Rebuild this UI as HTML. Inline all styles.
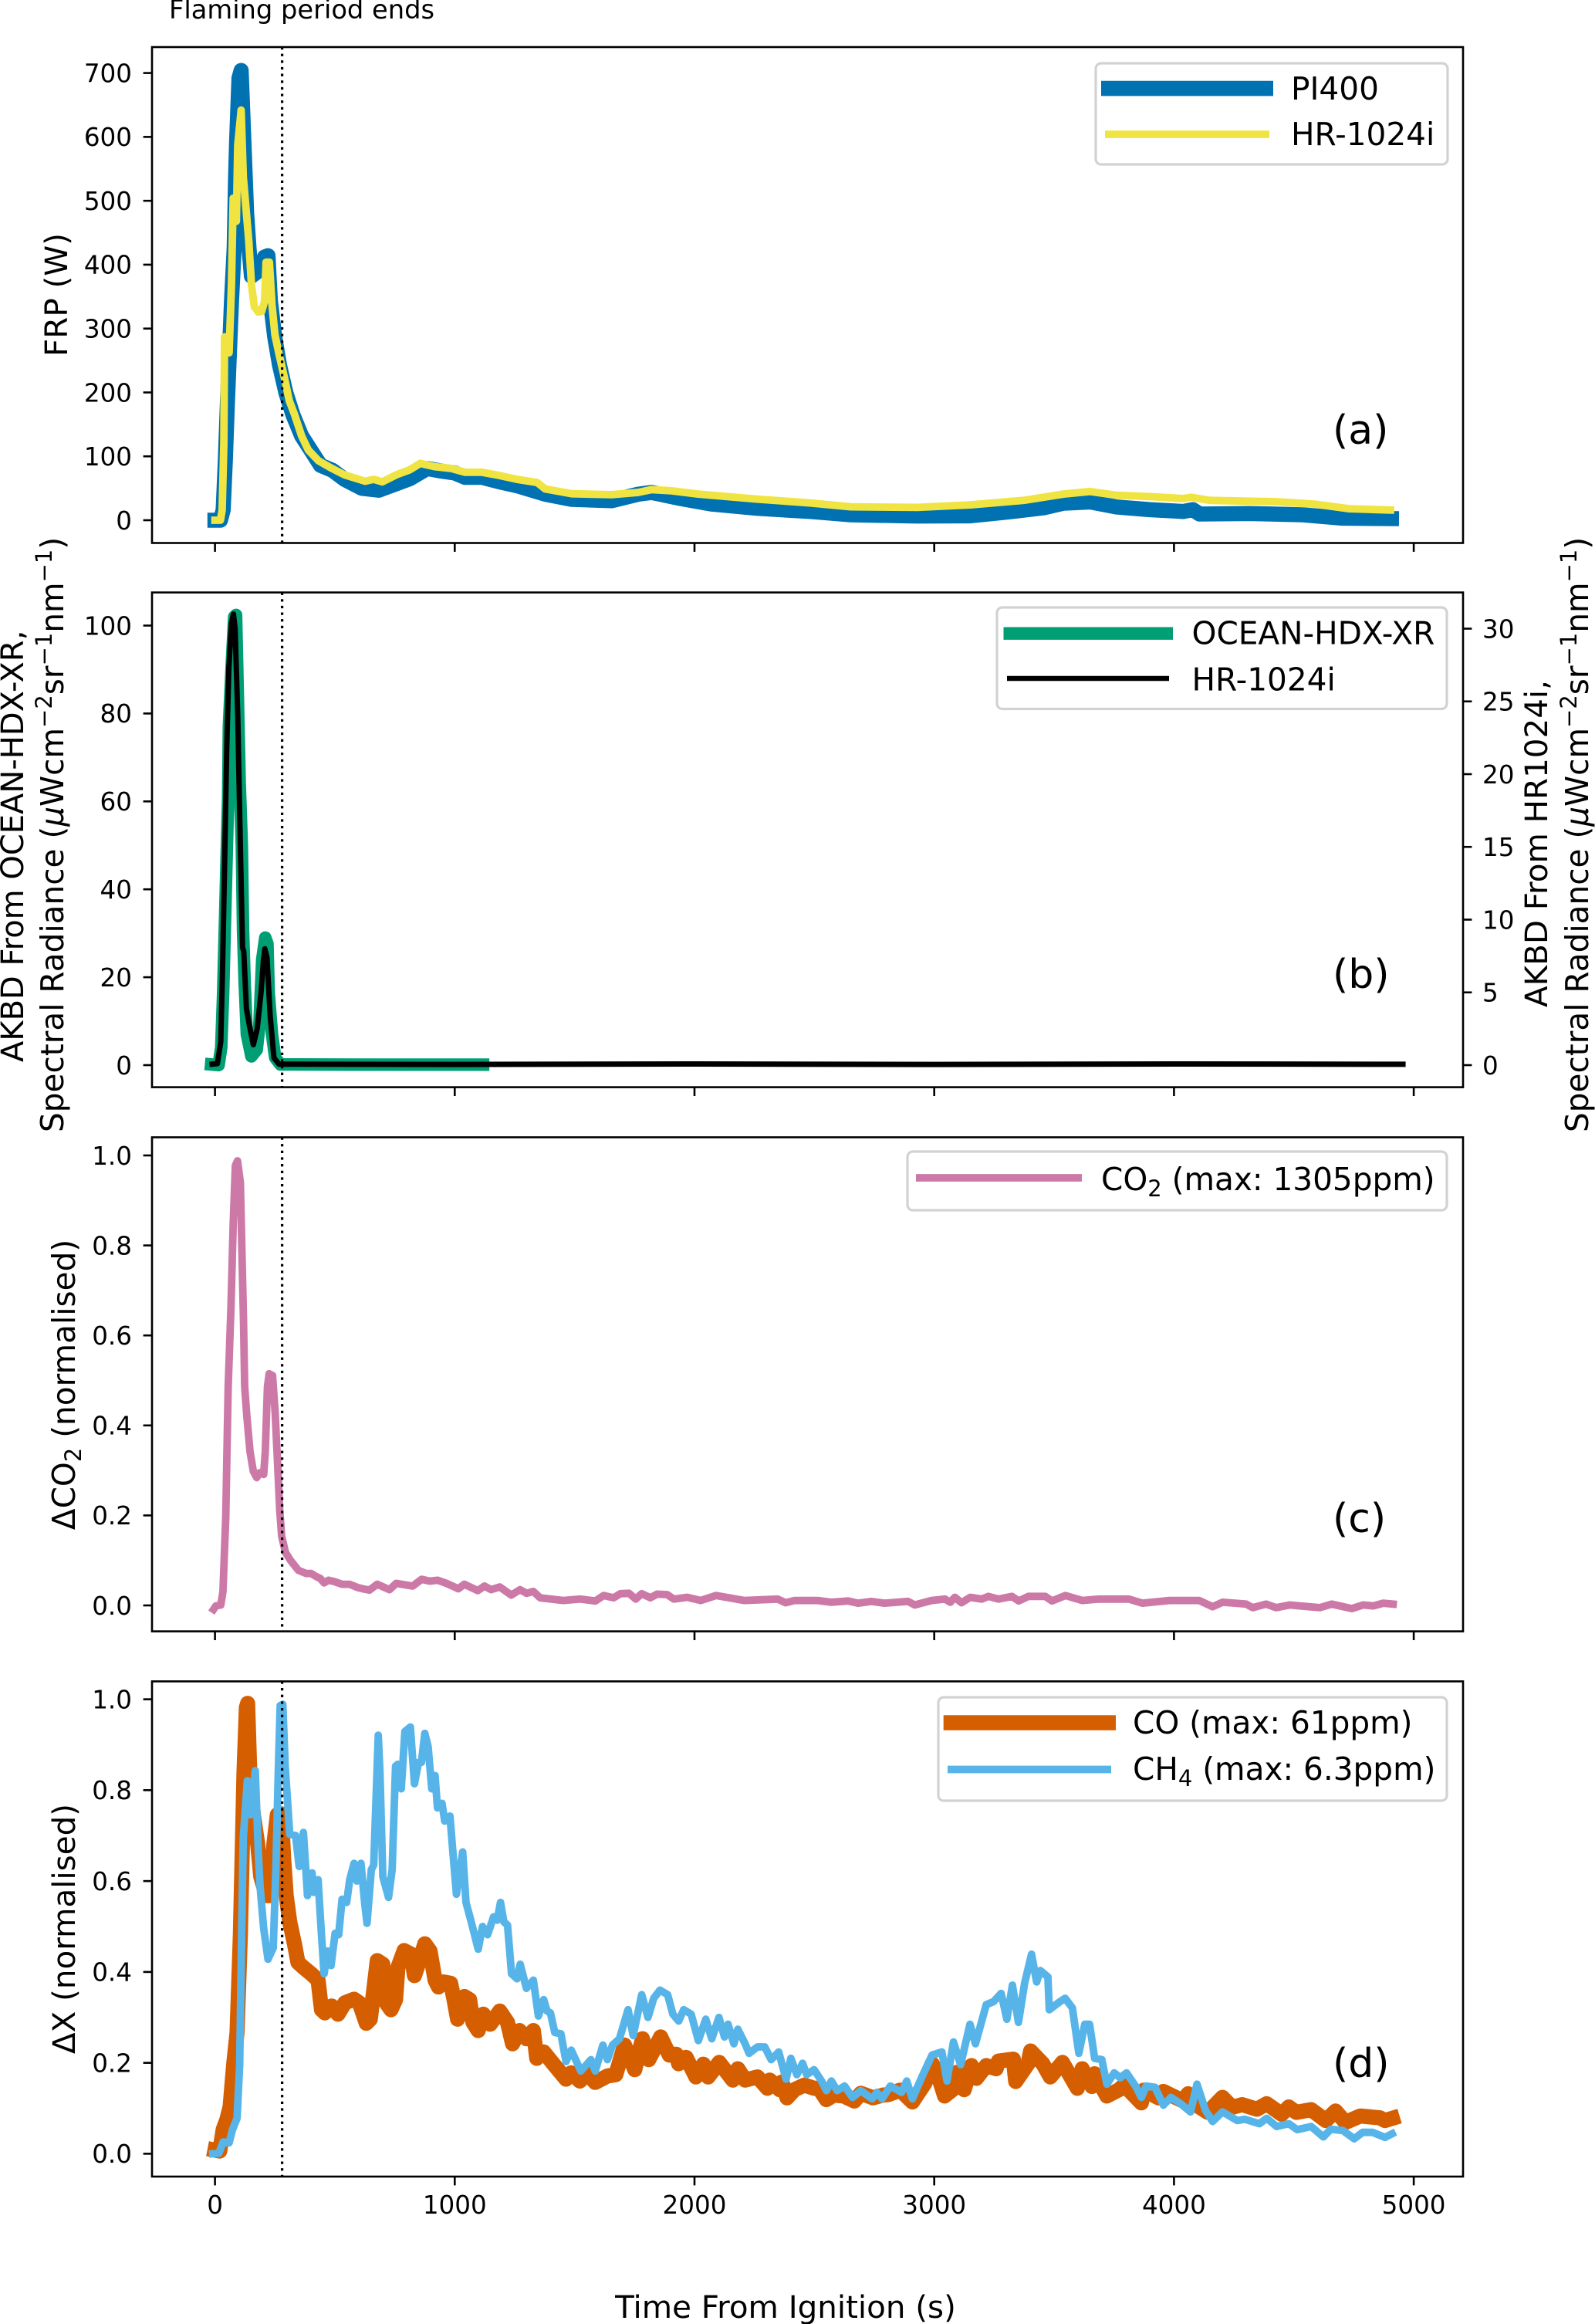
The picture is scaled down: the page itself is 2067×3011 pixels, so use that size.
<!DOCTYPE html>
<html lang="en">
<head>
<meta charset="utf-8">
<title>Fire time series</title>
<style>
html,body{margin:0;padding:0;background:#fff;}
svg{display:block;}
text{font-family:"DejaVu Sans","Liberation Sans",sans-serif;fill:#000;}
</style>
</head>
<body>
<svg id="chart" xmlns="http://www.w3.org/2000/svg" width="2067" height="3011" viewBox="0 0 2067 3011">
  <rect x="0" y="0" width="2067" height="3011" fill="#fff"/>
  <text x="219" y="24" font-size="33.7">Flaming period ends</text>

  <g id="panel-a"></g>
  <g id="panel-b"></g>
  <g id="panel-c"></g>
  <g id="panel-d"></g>

  <text transform="translate(87,382) rotate(-90)" font-size="40.4" text-anchor="middle">FRP (W)</text>
  <text transform="translate(30,1376) rotate(-90)" font-size="40">AKBD From OCEAN-HDX-XR,</text>
  <text transform="translate(82,1467) rotate(-90)" font-size="40.6">Spectral Radiance (<tspan font-style="italic">μ</tspan>Wcm<tspan dy="-15" font-size="29">−2</tspan><tspan dy="15">sr</tspan><tspan dy="-15" font-size="29">−1</tspan><tspan dy="15">nm</tspan><tspan dy="-15" font-size="29">−1</tspan><tspan dy="15">)</tspan></text>
  <text transform="translate(2005,1305) rotate(-90)" font-size="40.4">AKBD From HR1024i,</text>
  <text transform="translate(2058,1467) rotate(-90)" font-size="40.6">Spectral Radiance (<tspan font-style="italic">μ</tspan>Wcm<tspan dy="-15" font-size="29">−2</tspan><tspan dy="15">sr</tspan><tspan dy="-15" font-size="29">−1</tspan><tspan dy="15">nm</tspan><tspan dy="-15" font-size="29">−1</tspan><tspan dy="15">)</tspan></text>
  <text transform="translate(97,1794) rotate(-90)" font-size="40.6" text-anchor="middle">ΔCO<tspan dy="8" font-size="29">2</tspan><tspan dy="-8"> (normalised)</tspan></text>
  <text transform="translate(97,2499) rotate(-90)" font-size="40.4" text-anchor="middle">ΔX (normalised)</text>
  <text x="1018" y="3003" font-size="40.4" text-anchor="middle">Time From Ignition (s)</text>

  <text x="1727" y="575" font-size="52">(a)</text>
  <text x="1727" y="1280" font-size="52">(b)</text>
  <text x="1727" y="1985" font-size="52">(c)</text>
  <text x="1727" y="2691" font-size="52">(d)</text>

  <g>
    <rect x="1420" y="82" width="456" height="131" rx="7" fill="#fff" fill-opacity="0.8" stroke="#d2d2d2" stroke-width="3.2"/>
    <line x1="1427" x2="1650" y1="114.6" y2="114.6" stroke="#0072B2" stroke-width="19.6"/>
    <text x="1673" y="129" font-size="40.6">PI400</text>
    <line x1="1432" x2="1645" y1="174" y2="174" stroke="#F0E442" stroke-width="9.8"/>
    <text x="1673" y="188" font-size="40.6">HR-1024i</text>
  </g>
  <g>
    <rect x="1292" y="787" width="583" height="131.500" rx="7" fill="#fff" fill-opacity="0.8" stroke="#d2d2d2" stroke-width="3.2"/>
    <line x1="1300.500" x2="1520" y1="820.700" y2="820.700" stroke="#009E73" stroke-width="16.300"/>
    <text x="1544.500" y="834.500" font-size="40.6">OCEAN-HDX-XR</text>
    <line x1="1305" x2="1515" y1="879" y2="879" stroke="#000" stroke-width="6.500"/>
    <text x="1544.500" y="894.500" font-size="40.6">HR-1024i</text>
  </g>
  <g>
    <rect x="1176" y="1492" width="699" height="76" rx="7" fill="#fff" fill-opacity="0.8" stroke="#d2d2d2" stroke-width="3.2"/>
    <line x1="1187" x2="1402" y1="1526" y2="1526" stroke="#CC79A7" stroke-width="9.8"/>
    <text x="1427" y="1542" font-size="40.6">CO<tspan dy="8" font-size="29">2</tspan><tspan dy="-8"> (max: 1305ppm)</tspan></text>
  </g>
  <g>
    <rect x="1216" y="2199" width="659" height="134" rx="7" fill="#fff" fill-opacity="0.8" stroke="#d2d2d2" stroke-width="3.2"/>
    <line x1="1222.700" x2="1446" y1="2232" y2="2232" stroke="#D55E00" stroke-width="19.6"/>
    <text x="1468" y="2246" font-size="40.6">CO (max: 61ppm)</text>
    <line x1="1228" x2="1440" y1="2292.500" y2="2292.500" stroke="#56B4E9" stroke-width="9.8"/>
    <text x="1468" y="2306" font-size="40.6">CH<tspan dy="8" font-size="29">4</tspan><tspan dy="-8"> (max: 6.3ppm)</tspan></text>
  </g>
</svg>
<script>
/* ---------- data ---------- */
const flamingEndTime = 280;
const xTicks = [0, 1000, 2000, 3000, 4000, 5000];
const frpTicks = [0, 100, 200, 300, 400, 500, 600, 700];
const akbdLeftTicks = [0, 20, 40, 60, 80, 100];
const akbdRightTicks = [0, 5, 10, 15, 20, 25, 30];
const normTicks = ["0.0", "0.2", "0.4", "0.6", "0.8", "1.0"];

const pi400Time = [0,23,34,43,52,69,80,86,90,100,109,115,132,142,152,170,195,207,221,231,249,269,296,325,361,399,440,490,540,612,684,756,813,885,943,1000,1043,1115,1187,1259,1377,1488,1655,1765,1821,1932,2070,2264,2486,2652,2929,3151,3317,3456,3539,3650,3761,3899,4038,4079,4107,4315,4537,4703,4907];
const pi400Frp = [0,0,16,93,187,343,426,537,592,692,704,648,481,426,382,387,398,412,414,343,287,243,199,165,132,110,86,78,64,50,47,57,65,81,77,74,67,67,60,54,40.7,32.6,30.6,40.7,43.5,34.7,25.4,18.6,13.7,8.5,6.5,6.9,13.3,19.4,26.6,28.6,20.6,16.5,13.7,16.5,9.7,10.5,8.5,3.3,2.5];

const hrFrpTime = [0,23,30,37,40,52,59,69,76,89,95,109,118,126,141,152,164,181,195,207,213,227,238,250,267,289,310,332,361,389,432,483,540,626,662,698,756,813,856,914,986,1043,1115,1187,1259,1344,1377,1488,1655,1765,1821,1904,2015,2264,2486,2652,2929,3151,3373,3539,3650,3761,3899,4038,4071,4149,4426,4592,4731,4903];
const hrFrp = [0,0,16,121,287,287,262,370,504,468,587,642,537,504,437,370,334,326,327,343,404,404,337,290,260,224,187,165,132,110,93,82,71,61,64,60,71,79,89,84,81,75,75,70,64,59,49,41.5,40,43.5,48,46,41,33,27,21,20,24,31,41,45,39,37,34,36,31,29,25,18,16];

const oceanTime = [-16,15,26,34,48,55,58,69,80,88,95,103,112,117,124,133,152,174,185,197,210,219,224,238,251,273,600,1118];
const oceanAkbd = [0.15,0,4,16.5,46,61,77,90,102,102.4,85,64.5,50,30.5,18.7,7,2,3.5,9,24,29,27.6,16.5,7,1.7,0.15,0.1,0.1];

const hrAkbdTime = [-12,10,24,31,39,49,58,69,77,84,95,106,115,120,131,144,160,176,192,202,208,217,230,246,267,1000,2000,3000,4000,4955];
const hrAkbd = [0.07,0.1,1.6,6.1,12.8,21.7,27.3,30.4,31,30,24,15,8.1,7.8,3.9,2.7,1.4,2.5,5,7.2,8,7.4,3.4,0.5,0.07,0.05,0.08,0.05,0.08,0.06];

const co2Time = [-6,4,24,33,45,50,55,67,76,85,94,106,119,124,133,146,160,174,187,203,210,219,226,240,251,262,270,278,294,315,348,380,401,423,439,455,474,498,530,562,594,616,644,677,728,756,825,862,895,929,965,1015,1040,1096,1124,1152,1188,1236,1272,1300,1328,1356,1453,1523,1587,1621,1663,1691,1727,1755,1780,1816,1844,1886,1914,1970,2026,2090,2207,2347,2380,2417,2514,2570,2640,2682,2738,2793,2891,2919,2989,3045,3067,3086,3114,3150,3198,3226,3268,3324,3352,3393,3463,3491,3547,3617,3687,3812,3868,3980,4105,4161,4203,4301,4329,4384,4426,4482,4524,4608,4658,4742,4789,4831,4873,4914];
const co2Norm = [-0.009,-0.001,0.001,0.03,0.197,0.34,0.486,0.667,0.847,0.977,0.988,0.94,0.63,0.486,0.42,0.342,0.298,0.284,0.295,0.291,0.342,0.486,0.515,0.511,0.428,0.305,0.212,0.154,0.118,0.1,0.078,0.071,0.071,0.064,0.06,0.05,0.056,0.053,0.047,0.047,0.04,0.037,0.034,0.047,0.035,0.049,0.043,0.058,0.054,0.056,0.049,0.037,0.047,0.033,0.043,0.035,0.041,0.023,0.035,0.027,0.031,0.017,0.011,0.014,0.01,0.022,0.017,0.026,0.027,0.014,0.026,0.017,0.025,0.024,0.014,0.018,0.011,0.022,0.011,0.014,0.006,0.011,0.011,0.007,0.01,0.005,0.009,0.005,0.009,0.001,0.011,0.014,0.007,0.018,0.006,0.018,0.014,0.02,0.014,0.02,0.01,0.02,0.02,0.01,0.022,0.011,0.014,0.014,0.005,0.011,0.011,-0.003,0.007,0.003,-0.005,0.003,-0.005,0.001,-0.001,-0.005,0.003,-0.007,0.001,-0.001,0.005,0.003];

const coTime = [0,20,34,49,63,78,92,106,121,131,136,145,160,178,191,214,231,246,260,277,286,297,312,332,346,369,401,430,444,458,487,513,542,580,602,631,648,659,677,700,714,734,753,763,789,818,832,853,875,897,918,932,954,983,997,1012,1040,1062,1076,1098,1119,1148,1188,1220,1241,1270,1299,1328,1342,1371,1414,1464,1486,1522,1550,1586,1637,1672,1708,1751,1783,1809,1859,1895,1903,1924,1934,1965,2006,2037,2057,2103,2160,2181,2211,2263,2304,2314,2355,2365,2386,2417,2458,2499,2519,2550,2581,2622,2667,2694,2745,2786,2807,2858,2909,2961,2991,3012,3043,3084,3094,3125,3155,3176,3217,3258,3268,3330,3340,3391,3402,3453,3484,3535,3597,3617,3658,3669,3720,3771,3792,3864,3874,3936,3956,4038,4059,4100,4141,4202,4243,4284,4346,4387,4449,4479,4510,4572,4633,4674,4715,4777,4859,4880,4911];
const coNorm = [0.008,0.006,0.053,0.074,0.103,0.196,0.267,0.482,0.839,0.982,0.991,0.839,0.746,0.682,0.61,0.568,0.568,0.682,0.746,0.748,0.653,0.568,0.51,0.46,0.421,0.41,0.396,0.382,0.317,0.31,0.325,0.307,0.332,0.34,0.332,0.287,0.296,0.346,0.425,0.417,0.332,0.317,0.339,0.41,0.447,0.439,0.392,0.425,0.462,0.446,0.382,0.367,0.378,0.375,0.339,0.296,0.346,0.339,0.289,0.271,0.307,0.285,0.314,0.289,0.242,0.271,0.253,0.271,0.21,0.224,0.196,0.164,0.178,0.16,0.178,0.157,0.171,0.174,0.239,0.185,0.253,0.207,0.257,0.217,0.219,0.219,0.198,0.212,0.169,0.197,0.169,0.201,0.162,0.187,0.162,0.169,0.144,0.162,0.141,0.158,0.123,0.141,0.151,0.144,0.144,0.119,0.129,0.127,0.116,0.133,0.123,0.129,0.13,0.14,0.114,0.155,0.198,0.179,0.127,0.144,0.179,0.141,0.194,0.166,0.194,0.187,0.204,0.208,0.159,0.198,0.226,0.198,0.169,0.201,0.144,0.187,0.148,0.176,0.127,0.141,0.151,0.112,0.14,0.123,0.137,0.116,0.132,0.105,0.091,0.124,0.102,0.108,0.098,0.11,0.087,0.103,0.091,0.097,0.073,0.094,0.069,0.083,0.079,0.073,0.078];

const ch4Time = [-9,16,34,59,73,92,103,111,118,135,149,168,181,188,203,221,243,254,264,272,283,293,312,336,351,369,386,405,412,430,444,455,470,484,501,516,530,549,562,580,592,609,624,634,652,662,681,688,700,724,739,753,763,777,792,815,832,849,861,875,889,904,918,928,947,958,980,993,1007,1033,1047,1069,1098,1116,1137,1162,1177,1191,1205,1220,1237,1260,1273,1299,1328,1349,1371,1385,1399,1417,1443,1464,1486,1526,1568,1586,1618,1637,1658,1687,1723,1744,1780,1806,1830,1856,1888,1910,1934,1955,1986,2016,2047,2072,2102,2125,2140,2164,2181,2211,2228,2263,2293,2320,2351,2382,2402,2427,2451,2468,2499,2530,2550,2571,2595,2626,2659,2694,2741,2761,2782,2817,2864,2885,2909,2950,2991,3032,3053,3080,3110,3149,3172,3217,3248,3279,3303,3326,3351,3377,3406,3427,3443,3474,3480,3525,3546,3576,3603,3628,3648,3669,3699,3720,3751,3775,3802,3843,3864,3884,3921,3956,3987,4028,4069,4096,4131,4161,4202,4264,4295,4356,4387,4428,4479,4514,4572,4623,4654,4705,4752,4787,4828,4880,4910];
const ch4Norm = [0,0.001,0.026,0.024,0.053,0.078,0.196,0.482,0.696,0.821,0.746,0.843,0.66,0.589,0.496,0.428,0.453,0.625,0.839,0.986,0.989,0.853,0.703,0.7,0.632,0.707,0.568,0.618,0.575,0.603,0.482,0.396,0.446,0.414,0.485,0.482,0.56,0.553,0.603,0.639,0.6,0.639,0.553,0.507,0.625,0.635,0.921,0.839,0.61,0.564,0.625,0.853,0.857,0.803,0.929,0.939,0.814,0.861,0.861,0.925,0.896,0.803,0.832,0.761,0.771,0.732,0.743,0.66,0.571,0.664,0.553,0.51,0.45,0.5,0.482,0.521,0.514,0.553,0.51,0.503,0.396,0.385,0.417,0.364,0.382,0.303,0.339,0.314,0.31,0.267,0.264,0.203,0.228,0.182,0.207,0.182,0.239,0.207,0.239,0.253,0.317,0.26,0.35,0.3,0.342,0.36,0.35,0.307,0.292,0.317,0.307,0.249,0.296,0.253,0.3,0.257,0.285,0.242,0.274,0.242,0.221,0.235,0.235,0.207,0.224,0.164,0.21,0.174,0.199,0.174,0.185,0.16,0.139,0.16,0.139,0.149,0.124,0.139,0.121,0.135,0.121,0.149,0.135,0.16,0.121,0.171,0.217,0.224,0.16,0.246,0.196,0.285,0.242,0.328,0.335,0.353,0.296,0.371,0.289,0.375,0.439,0.378,0.403,0.389,0.317,0.335,0.342,0.321,0.221,0.285,0.285,0.21,0.207,0.153,0.178,0.167,0.178,0.146,0.124,0.149,0.146,0.107,0.124,0.11,0.092,0.153,0.096,0.071,0.092,0.073,0.076,0.066,0.078,0.06,0.066,0.053,0.06,0.037,0.054,0.051,0.033,0.047,0.047,0.036,0.044];

/* ---------- axes ---------- */
const NS = "http://www.w3.org/2000/svg";
const plotLeft = 197, plotRight = 1896;
function xPos(t) { return 278.6 + 0.3107 * t; }
function linearY(zeroPx, pxPerUnit) { return function (v) { return zeroPx - pxPerUnit * v; }; }
const yFrp = linearY(674, 0.8277);
const yAkbdLeft = linearY(1380, 5.695);
const yAkbdRight = linearY(1380, 18.85);
const yCo2 = linearY(2080, 583);
const yDelta = linearY(2790.4, 588.8);

function drawSeries(parent, times, values, yScale, color, width, name) {
  const pts = times.map(function (t, i) { return xPos(t).toFixed(1) + "," + yScale(values[i]).toFixed(1); });
  const el = document.createElementNS(NS, "polyline");
  
  
  el.setAttribute("points", pts.join(" "));
  el.setAttribute("fill", "none");
  el.setAttribute("stroke", color);
  el.setAttribute("stroke-width", width);
  el.setAttribute("stroke-linejoin", "round");
  el.setAttribute("stroke-linecap", "square");
  parent.appendChild(el);
}
function drawFlamingLine(parent, top, bottom, name) {
  const el = document.createElementNS(NS, "line");
  
  
  el.setAttribute("x1", xPos(flamingEndTime));
  el.setAttribute("x2", xPos(flamingEndTime));
  el.setAttribute("y1", top);
  el.setAttribute("y2", bottom);
  el.setAttribute("stroke", "#000");
  el.setAttribute("stroke-width", 3.26);
  el.setAttribute("stroke-dasharray", "3.26 5.38");
  parent.appendChild(el);
}
function drawFrame(parent, top, bottom, name) {
  const el = document.createElementNS(NS, "rect");
  
  
  el.setAttribute("x", plotLeft);
  el.setAttribute("y", top);
  el.setAttribute("width", plotRight - plotLeft);
  el.setAttribute("height", bottom - top);
  el.setAttribute("fill", "none");
  el.setAttribute("stroke", "#000");
  el.setAttribute("stroke-width", 2.6);
  parent.appendChild(el);
}
function tickLine(parent, x1, y1, x2, y2, name) {
  const el = document.createElementNS(NS, "line");
  
  
  el.setAttribute("x1", x1);
  el.setAttribute("y1", y1);
  el.setAttribute("x2", x2);
  el.setAttribute("y2", y2);
  el.setAttribute("stroke", "#000");
  el.setAttribute("stroke-width", 2.6);
  parent.appendChild(el);
}
function tickText(parent, x, y, label, anchor, name) {
  const el = document.createElementNS(NS, "text");
  
  
  el.setAttribute("x", x);
  el.setAttribute("y", y);
  el.setAttribute("font-size", 32.6);
  el.setAttribute("text-anchor", anchor);
  el.textContent = label;
  parent.appendChild(el);
}
function drawXAxis(parent, bottom, withLabels, prefix) {
  xTicks.forEach(function (t) {
    tickLine(parent, xPos(t), bottom, xPos(t), bottom + 11.4, prefix + "-x-tick-" + t);
    if (withLabels) tickText(parent, xPos(t), 2868, String(t), "middle", "x-tick-label-" + t);
  });
}
function drawLeftAxis(parent, ticks, yScale, prefix) {
  ticks.forEach(function (lab) {
    const py = yScale(Number(lab));
    tickLine(parent, plotLeft - 11.4, py, plotLeft, py, prefix + "-y-tick-" + lab);
    tickText(parent, 171, py + 11.8, String(lab), "end", prefix + "-y-tick-label-" + lab);
  });
}
function drawRightAxis(parent, ticks, yScale, prefix) {
  ticks.forEach(function (lab) {
    const py = yScale(Number(lab));
    tickLine(parent, plotRight, py, plotRight + 11.4, py, prefix + "-right-y-tick-" + lab);
    tickText(parent, 1921, py + 11.8, String(lab), "start", prefix + "-right-y-tick-label-" + lab);
  });
}

/* ---------- panels ---------- */
const panelA = document.getElementById("panel-a");
drawSeries(panelA, pi400Time, pi400Frp, yFrp, "#0072B2", 19.6, "series-pi400");
drawSeries(panelA, hrFrpTime, hrFrp, yFrp, "#F0E442", 9.8, "series-hr1024i-frp");
drawFlamingLine(panelA, 61, 703.5, "panel-a-flaming-end-line");
drawFrame(panelA, 61, 703.5, "panel-a-frame");
drawXAxis(panelA, 703.5, false, "panel-a");
drawLeftAxis(panelA, frpTicks, yFrp, "panel-a");

const panelB = document.getElementById("panel-b");
drawSeries(panelB, oceanTime, oceanAkbd, yAkbdLeft, "#009E73", 16.3, "series-ocean-hdx-xr");
drawSeries(panelB, hrAkbdTime, hrAkbd, yAkbdRight, "#000000", 7, "series-hr1024i-akbd");
drawFlamingLine(panelB, 767.6, 1408.6, "panel-b-flaming-end-line");
drawFrame(panelB, 767.6, 1408.6, "panel-b-frame");
drawXAxis(panelB, 1408.6, false, "panel-b");
drawLeftAxis(panelB, akbdLeftTicks, yAkbdLeft, "panel-b");
drawRightAxis(panelB, akbdRightTicks, yAkbdRight, "panel-b");

const panelC = document.getElementById("panel-c");
drawSeries(panelC, co2Time, co2Norm, yCo2, "#CC79A7", 9.8, "series-co2");
drawFlamingLine(panelC, 1473.5, 2113.6, "panel-c-flaming-end-line");
drawFrame(panelC, 1473.5, 2113.6, "panel-c-frame");
drawXAxis(panelC, 2113.6, false, "panel-c");
drawLeftAxis(panelC, normTicks, yCo2, "panel-c");

const panelD = document.getElementById("panel-d");
drawSeries(panelD, coTime, coNorm, yDelta, "#D55E00", 19.6, "series-co");
drawSeries(panelD, ch4Time, ch4Norm, yDelta, "#56B4E9", 9.8, "series-ch4");
drawFlamingLine(panelD, 2178.4, 2820, "panel-d-flaming-end-line");
drawFrame(panelD, 2178.4, 2820, "panel-d-frame");
drawXAxis(panelD, 2820, true, "panel-d");
drawLeftAxis(panelD, normTicks, yDelta, "panel-d");
</script>
</body>
</html>
